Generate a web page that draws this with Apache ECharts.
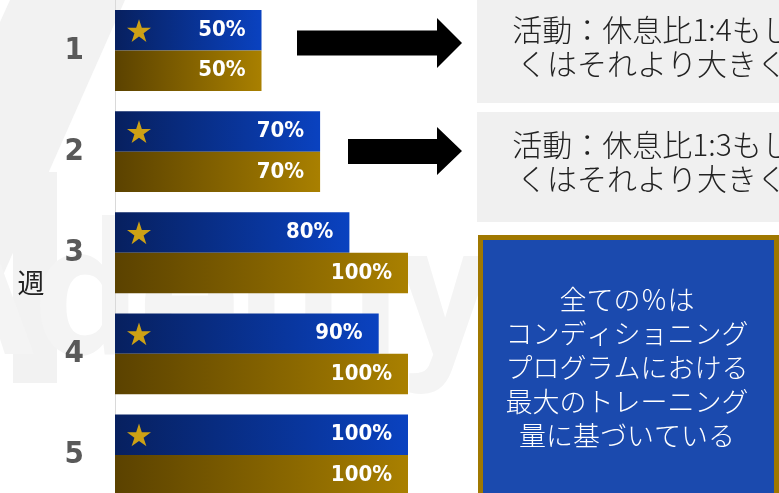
<!DOCTYPE html>
<html>
<head>
<meta charset="utf-8">
<script src="https://cdn.jsdelivr.net/npm/echarts/dist/echarts.min.js"></script>
<style>
html,body{margin:0;padding:0;background:#fff;}
#chart{width:779px;height:493px;}
</style>
</head>
<body>
<div id="chart"></div>
<script>
// ---- data ----
const weeks = ['1', '2', '3', '4', '5'];
const activityPct = [50, 70, 80, 90, 100];   // blue bars (★)
const volumePct = [50, 70, 100, 100, 100];   // gold bars
const axisTitle = '週';
const note1 = ['活動：休息比1:4もし', 'くはそれより大きく'];
const note2 = ['活動：休息比1:3もし', 'くはそれより大きく'];
const note3 = ['全ての％は', 'コンディショニング', 'プログラムにおける', '最大のトレーニング', '量に基づいている'];

const STAR = 'path://M50,0 L61.2,34.5 L97.6,34.5 L68.2,55.9 L79.4,90.5 L50,69.1 L20.6,90.5 L31.8,55.9 L2.4,34.5 L38.8,34.5 Z';
const numFont = '"DejaVu Sans Condensed", "Liberation Sans Narrow", Roboto, sans-serif';
const cjkFont = '"Noto Sans CJK JP", "Noto Sans", sans-serif';

const chart = echarts.init(document.getElementById('chart'), null, {renderer: 'canvas'});

const blueGrad = new echarts.graphic.LinearGradient(0, 0, 1, 0, [
  {offset: 0, color: '#07205f'}, {offset: 1, color: '#0a42c0'}
]);
const goldGrad = new echarts.graphic.LinearGradient(0, 0, 1, 0, [
  {offset: 0, color: '#5b4200'}, {offset: 1, color: '#a98000'}
]);

const barLabel = {show: true, position: 'insideRight', distance: 16, formatter: '{c}%', color: '#fff', fontSize: 22, fontWeight: 'bold', fontFamily: numFont};

const option = {
  backgroundColor: '#ffffff',
  animation: false,
  grid: {left: 115, right: 371, top: 0, height: 505.5, outerBoundsMode: 'none', containLabel: false},
  xAxis: {type: 'value', min: 0, max: 100, show: false},
  yAxis: {
    type: 'category',
    data: weeks,
    inverse: true,
    axisLine: {show: true, lineStyle: {color: '#d9d9d9', width: 1}},
    axisTick: {show: false},
    axisLabel: {margin: 31, color: '#595959', fontSize: 31, fontWeight: 'bold', fontFamily: '"Liberation Sans Narrow", "DejaVu Sans Condensed", sans-serif'},
    splitLine: {show: false}
  },
  series: [
    {
      type: 'bar',
      data: activityPct,
      barCategoryGap: '20%',
      barGap: '0%',
      itemStyle: {color: blueGrad},
      label: barLabel,
      z: 3
    },
    {
      type: 'bar',
      data: volumePct,
      barCategoryGap: '20%',
      barGap: '0%',
      itemStyle: {color: goldGrad},
      label: barLabel,
      z: 3
    },
    {
      type: 'scatter',
      data: weeks.map(w => [0, w]),
      symbol: STAR,
      symbolSize: 24,
      symbolKeepAspect: true,
      symbolOffset: [24, -20],
      itemStyle: {color: '#ffc000'},
      silent: true,
      z: 5
    }
  ],
  graphic: [
    // faint watermark
    {type: 'polygon', z: -10, shape: {points: [[10, 0], [125, 0], [0, 282], [0, 22]]}, style: {fill: '#f2f2f2'}},
    {type: 'rect', z: -10, shape: {x: 13, y: 172, width: 44, height: 211}, style: {fill: '#f2f2f2'}},
    {type: 'text', z: -10, style: {text: 'Ademy', x: -90, y: 400, fill: '#f4f4f4', font: 'bold 185px Roboto, sans-serif', textVerticalAlign: 'bottom'}},
    // axis title
    {type: 'text', z: 5, style: {text: axisTitle, x: 31, y: 283, fill: '#222', font: '27px ' + cjkFont, textAlign: 'center', textVerticalAlign: 'middle'}},
    // note boxes
    {type: 'rect', z: 10, shape: {x: 477, y: 0, width: 320, height: 103}, style: {fill: '#f0f0f0'}},
    {type: 'rect', z: 10, shape: {x: 477, y: 112, width: 320, height: 110}, style: {fill: '#f0f0f0'}},
    {type: 'text', z: 11, style: {text: note1.join('\n'), x: 652, y: 47, fill: '#222', font: '300 30px ' + cjkFont, lineHeight: 34, textAlign: 'center', textVerticalAlign: 'middle'}},
    {type: 'text', z: 11, style: {text: note2.join('\n'), x: 652, y: 162, fill: '#222', font: '300 30px ' + cjkFont, lineHeight: 34, textAlign: 'center', textVerticalAlign: 'middle'}},
    // arrows
    {type: 'polygon', z: 10, shape: {points: [[297, 30.5], [437, 30.5], [437, 18], [462, 43], [437, 68], [437, 55.5], [297, 55.5]]}, style: {fill: '#000'}},
    {type: 'polygon', z: 10, shape: {points: [[348, 139], [437, 139], [437, 127], [462, 151], [437, 175], [437, 164], [348, 164]]}, style: {fill: '#000'}},
    // blue info box
    {type: 'rect', z: 10, shape: {x: 480.5, y: 237.5, width: 296, height: 270}, style: {fill: '#1b4aae', stroke: '#a07800', lineWidth: 5}},
    {type: 'text', z: 11, style: {text: note3.join('\n'), x: 627, y: 367.5, fill: '#fff', font: '300 27px ' + cjkFont, lineHeight: 34, textAlign: 'center', textVerticalAlign: 'middle'}}
  ]
};
chart.setOption(option);
</script>
</body>
</html>
